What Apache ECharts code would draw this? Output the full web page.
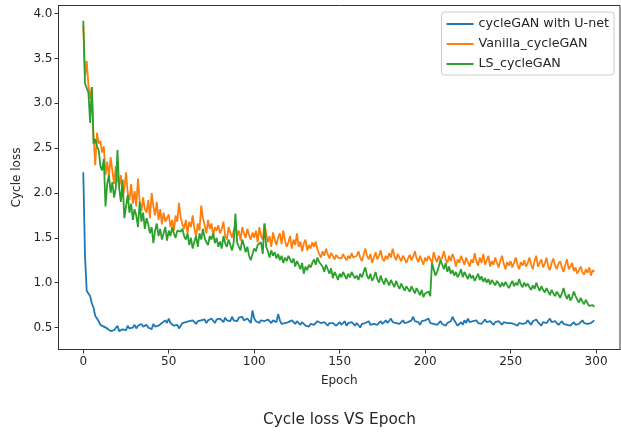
<!DOCTYPE html>
<html>
<head>
<meta charset="utf-8">
<script src="https://cdn.jsdelivr.net/npm/echarts@6/dist/echarts.min.js"></script>
<style>
html,body{margin:0;padding:0;background:#fff;}
#chart{width:621px;height:432px;}
</style>
</head>
<body>
<div id="chart"></div>
<script>
const seriesNames = ['cycleGAN with U-net', 'Vanilla_cycleGAN', 'LS_cycleGAN'];
const xTicks = [0, 50, 100, 150, 200, 250, 300];
const yTicks = [0.5, 1.0, 1.5, 2.0, 2.5, 3.0, 3.5, 4.0];

const unetLoss = [
2.23,1.30,0.91,0.88,0.85,0.77,0.72,0.63,0.60,0.57,
0.53,0.55,0.51,0.52,0.49,0.50,0.46,0.44,0.47,0.45,
0.52,0.46,0.47,0.48,0.50,0.47,0.52,0.49,0.51,0.50,
0.53,0.49,0.52,0.50,0.54,0.51,0.49,0.53,0.50,0.52,
0.48,0.54,0.51,0.49,0.52,0.50,0.55,0.53,0.58,0.55,
0.60,0.55,0.57,0.52,0.50,0.53,0.49,0.52,0.55,0.53,
0.56,0.54,0.57,0.55,0.58,0.56,0.54,0.57,0.55,0.58,
0.56,0.59,0.55,0.58,0.57,0.60,0.58,0.55,0.59,0.57,
0.60,0.58,0.56,0.61,0.58,0.60,0.57,0.62,0.58,0.60,
0.57,0.61,0.59,0.62,0.58,0.56,0.60,0.58,0.55,0.69,
0.60,0.57,0.59,0.55,0.58,0.60,0.57,0.56,0.59,0.57,
0.55,0.58,0.60,0.56,0.65,0.58,0.54,0.52,0.55,0.53,
0.56,0.55,0.58,0.56,0.54,0.57,0.55,0.53,0.56,0.54,
0.52,0.50,0.51,0.54,0.56,0.53,0.55,0.57,0.59,0.55,
0.53,0.56,0.54,0.52,0.55,0.53,0.55,0.54,0.52,0.54,
0.56,0.53,0.55,0.57,0.52,0.55,0.53,0.56,0.54,0.52,
0.55,0.56,0.50,0.54,0.52,0.55,0.54,0.57,0.53,0.55,
0.54,0.56,0.53,0.55,0.57,0.54,0.56,0.58,0.55,0.57,
0.60,0.56,0.58,0.55,0.57,0.54,0.56,0.58,0.55,0.53,
0.56,0.55,0.58,0.62,0.57,0.55,0.56,0.53,0.57,0.55,
0.58,0.56,0.60,0.55,0.57,0.54,0.56,0.53,0.55,0.57,
0.54,0.56,0.52,0.55,0.53,0.57,0.62,0.58,0.55,0.52,
0.54,0.56,0.53,0.58,0.55,0.60,0.56,0.54,0.57,0.55,
0.58,0.55,0.57,0.54,0.56,0.59,0.56,0.54,0.57,0.55,
0.53,0.56,0.54,0.57,0.55,0.53,0.56,0.58,0.55,0.53,
0.55,0.57,0.54,0.56,0.52,0.55,0.57,0.54,0.56,0.55,
0.58,0.56,0.53,0.57,0.55,0.59,0.56,0.54,0.52,0.56,
0.58,0.55,0.57,0.60,0.56,0.54,0.57,0.55,0.53,0.55,
0.57,0.54,0.56,0.53,0.55,0.52,0.54,0.56,0.53,0.55,
0.54,0.56,0.58,0.55,0.57,0.54,0.56,0.55,0.57,0.58
];

const vanillaLoss = [
3.87,3.30,3.47,3.20,3.05,3.18,2.62,2.31,2.67,2.55,
2.58,2.45,2.52,2.20,2.35,2.18,2.40,2.25,2.10,2.30,
2.15,2.08,2.20,1.95,2.05,2.23,2.00,1.92,2.10,1.88,
2.02,1.85,2.16,1.90,1.80,1.95,1.82,1.78,1.92,1.72,
2.00,1.85,1.75,1.90,1.70,1.82,1.65,1.78,1.68,1.72,
1.76,1.62,1.70,1.58,1.75,1.68,1.89,1.72,1.65,1.60,
1.70,1.55,1.68,1.62,1.75,1.60,1.52,1.66,1.58,1.86,
1.72,1.64,1.55,1.70,1.60,1.66,1.52,1.62,1.58,1.64,
1.55,1.60,1.68,1.52,1.48,1.62,1.56,1.50,1.58,1.65,
1.52,1.58,1.47,1.62,1.55,1.50,1.60,1.53,1.48,1.56,
1.50,1.58,1.45,1.62,1.52,1.48,1.66,1.55,1.45,1.52,
1.40,1.56,1.48,1.42,1.50,1.55,1.43,1.58,1.47,1.40,
1.45,1.52,1.38,1.48,1.42,1.55,1.40,1.46,1.35,1.44,
1.48,1.36,1.42,1.38,1.45,1.40,1.46,1.37,1.32,1.28,
1.35,1.30,1.38,1.32,1.27,1.33,1.30,1.26,1.31,1.28,
1.30,1.27,1.32,1.28,1.25,1.30,1.27,1.33,1.28,1.26,
1.30,1.35,1.28,1.24,1.31,1.38,1.30,1.26,1.32,1.22,
1.28,1.34,1.26,1.30,1.36,1.27,1.24,1.30,1.26,1.33,
1.28,1.38,1.30,1.25,1.32,1.28,1.24,1.30,1.27,1.22,
1.27,1.31,1.25,1.29,1.35,1.27,1.23,1.30,1.25,1.20,
1.28,1.24,1.30,1.26,1.22,1.34,1.27,1.23,1.30,1.25,
1.28,1.35,1.26,1.22,1.30,1.24,1.32,1.27,1.18,1.26,
1.22,1.30,1.25,1.20,1.28,1.23,1.18,1.26,1.22,1.33,
1.24,1.19,1.28,1.22,1.32,1.20,1.25,1.30,1.18,1.24,
1.20,1.28,1.22,1.17,1.25,1.30,1.21,1.15,1.23,1.19,
1.24,1.17,1.22,1.28,1.20,1.15,1.23,1.19,1.25,1.18,
1.22,1.28,1.20,1.15,1.24,1.30,1.18,1.22,1.26,1.17,
1.21,1.28,1.18,1.14,1.22,1.27,1.19,1.15,1.21,1.24,
1.17,1.12,1.20,1.26,1.15,1.18,1.22,1.13,1.17,1.10,
1.14,1.18,1.12,1.09,1.15,1.11,1.17,1.08,1.14,1.12
];

const lsLoss = [
3.92,3.22,3.20,3.12,2.78,3.18,2.55,2.60,2.52,2.48,
2.30,2.25,2.38,1.85,2.10,2.20,2.00,2.12,1.95,2.05,
2.48,2.05,1.90,2.15,1.72,1.85,1.98,1.78,1.88,1.70,
1.82,1.75,1.62,1.90,1.68,1.78,1.60,1.72,1.65,1.55,
1.62,1.44,1.58,1.66,1.52,1.60,1.48,1.55,1.62,1.47,
1.58,1.52,1.62,1.55,1.50,1.58,1.60,1.57,1.60,1.52,
1.48,1.55,1.42,1.50,1.38,1.46,1.52,1.40,1.55,1.48,
1.60,1.50,1.45,1.42,1.52,1.48,1.55,1.44,1.50,1.40,
1.46,1.38,1.52,1.44,1.40,1.48,1.42,1.36,1.45,1.77,
1.45,1.40,1.36,1.48,1.42,1.34,1.40,1.30,1.25,1.32,
1.38,1.35,1.42,1.40,1.45,1.32,1.66,1.40,1.35,1.28,
1.36,1.30,1.34,1.27,1.32,1.25,1.30,1.22,1.28,1.24,
1.30,1.26,1.22,1.27,1.18,1.24,1.20,1.15,1.22,1.10,
1.18,1.14,1.20,1.17,1.22,1.26,1.20,1.28,1.23,1.25,
1.18,1.12,1.20,1.15,1.10,1.16,1.05,1.12,1.08,1.03,
1.10,1.06,1.12,1.08,1.04,1.10,1.06,1.12,1.08,1.05,
1.08,1.03,1.10,1.06,1.12,1.17,1.08,1.04,1.10,1.02,
1.06,1.12,1.04,1.00,1.08,1.02,0.98,1.05,1.01,0.97,
1.03,0.99,0.95,1.02,0.97,0.93,0.99,0.95,0.91,0.96,
0.93,0.90,0.96,0.92,0.88,0.94,0.90,0.86,0.92,0.84,
0.88,0.86,0.90,0.85,1.22,1.15,1.08,1.12,1.18,1.25,
1.20,1.15,1.22,1.12,1.18,1.10,1.14,1.08,1.12,1.06,
1.10,1.15,1.06,1.12,1.08,1.04,1.10,1.05,1.08,1.02,
1.06,1.10,1.03,1.07,1.01,1.05,1.00,1.04,0.98,1.03,
1.00,0.97,1.02,0.99,0.95,1.00,0.96,1.01,0.97,0.94,
0.98,1.02,0.96,1.00,0.97,1.04,0.98,0.95,1.00,0.96,
0.99,0.95,0.92,0.97,0.93,1.00,0.95,0.91,0.96,0.92,
0.89,0.94,0.90,0.86,0.92,0.88,0.85,0.90,0.87,0.83,
0.88,0.94,0.86,0.82,0.87,0.80,0.84,0.90,0.85,0.81,
0.78,0.83,0.79,0.76,0.81,0.77,0.74,0.72,0.75,0.73
];

const colors = ['#1f77b4', '#ff7f0e', '#2ca02c'];
const font = 'DejaVu Sans';
const textColor = '#262626';
const toPairs = arr => arr.map((v, i) => [i, v]);

const chart = echarts.init(document.getElementById('chart'), null, {renderer: 'canvas'});
chart.setOption({
  animation: false,
  backgroundColor: '#fff',
  color: colors,
  title: {
    text: 'Cycle loss VS Epoch',
    left: 263, top: 413,
    padding: 0,
    textStyle: {fontFamily: font, fontSize: 15.3, fontWeight: 'normal', color: textColor}
  },
  legend: {
    orient: 'vertical',
    right: 7, top: 12,
    padding: [5, 5, 4, 5],
    itemGap: 6,
    itemWidth: 27, itemHeight: 2,
    icon: 'rect',
    borderColor: '#cccccc', borderWidth: 1, borderRadius: 3,
    backgroundColor: '#fff',
    textStyle: {fontFamily: font, fontSize: 12.7, color: textColor, lineHeight: 14},
    data: seriesNames
  },
  grid: {
    left: 58.5, right: 1, top: 5.5, bottom: 82.5,
    show: true, borderColor: '#333', borderWidth: 1, backgroundColor: 'transparent'
  },
  xAxis: {
    type: 'value',
    min: -14.5, max: 314,
    name: 'Epoch', nameLocation: 'middle', nameGap: 25,
    nameTextStyle: {fontFamily: font, fontSize: 12, color: textColor},
    axisLine: {show: true, onZero: false, lineStyle: {color: '#333', width: 1}},
    axisTick: {show: true, length: 4, lineStyle: {color: '#333'}, customValues: xTicks},
    axisLabel: {fontFamily: font, fontSize: 12, color: textColor, margin: 6, customValues: xTicks, formatter: v => String(v)},
    splitLine: {show: false}
  },
  yAxis: {
    type: 'value',
    min: 0.255, max: 4.09,
    name: 'Cycle loss', nameLocation: 'middle', nameGap: 34, nameRotate: 90,
    nameTextStyle: {fontFamily: font, fontSize: 12, color: textColor},
    axisLine: {show: true, onZero: false, lineStyle: {color: '#333', width: 1}},
    axisTick: {show: true, length: 4, lineStyle: {color: '#333'}, customValues: yTicks},
    axisLabel: {fontFamily: font, fontSize: 12, color: textColor, margin: 6, customValues: yTicks, formatter: v => v.toFixed(1)},
    splitLine: {show: false}
  },
  series: [
    {name: seriesNames[0], type: 'line', data: toPairs(unetLoss), showSymbol: false, symbol: 'none', lineStyle: {width: 1.8, color: colors[0]}},
    {name: seriesNames[1], type: 'line', data: toPairs(vanillaLoss), showSymbol: false, symbol: 'none', lineStyle: {width: 1.8, color: colors[1]}},
    {name: seriesNames[2], type: 'line', data: toPairs(lsLoss), showSymbol: false, symbol: 'none', lineStyle: {width: 1.8, color: colors[2]}}
  ]
});
</script>
</body>
</html>
